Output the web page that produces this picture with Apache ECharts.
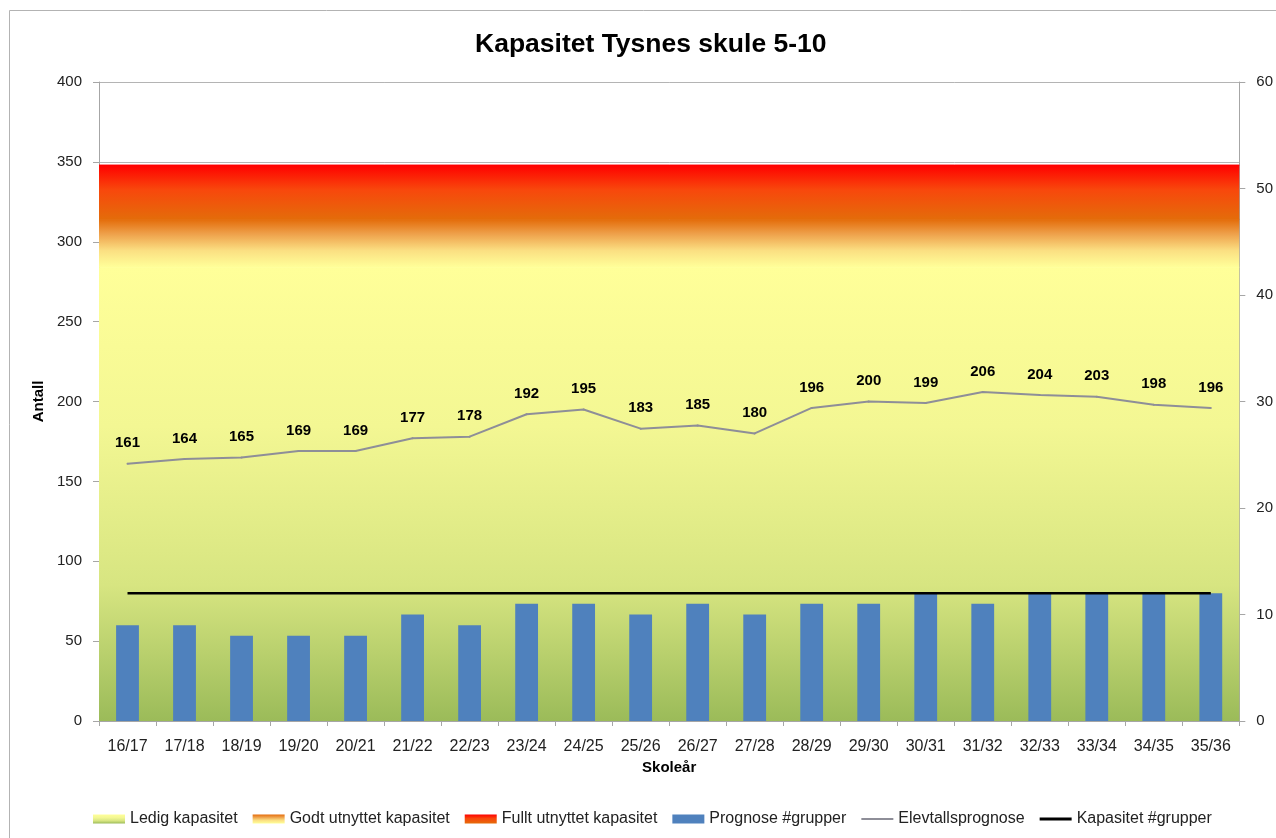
<!DOCTYPE html>
<html>
<head>
<meta charset="utf-8">
<script src="https://cdn.jsdelivr.net/npm/echarts@6/dist/echarts.min.js"></script>
<style>
    html, body { margin: 0; padding: 0; background: #fff; }
    #chart { width: 1276px; height: 838px; }
</style>
</head>
<body>
<div id="chart"></div>
<script>
    // skoleår
    var categories = ['16/17', '17/18', '18/19', '19/20', '20/21', '21/22', '22/23', '23/24', '24/25', '25/26',
        '26/27', '27/28', '28/29', '29/30', '30/31', '31/32', '32/33', '33/34', '34/35', '35/36'];
    // elevtal (venstre akse)
    var elevtall = [161, 164, 165, 169, 169, 177, 178, 192, 195, 183, 185, 180, 196, 200, 199, 206, 204, 203, 198, 196];
    // grupper (høgre akse)
    var grupper = [9, 9, 8, 8, 8, 10, 9, 11, 11, 10, 11, 10, 11, 11, 12, 11, 12, 12, 12, 12];
    var kapasitetGrupper = [12, 12, 12, 12, 12, 12, 12, 12, 12, 12, 12, 12, 12, 12, 12, 12, 12, 12, 12, 12];
    // bakgrunnsband, stabla (venstre akse), teikna over heile breidda
    var bandPoints = ['start', 'slutt'];
    var ledig = [284, 284];
    var godt = [30, 30];
    var fullt = [34, 34];
    // akseverdiar
    var leftMin = 0, leftMax = 400, leftStep = 50;
    var rightMin = 0, rightMax = 60, rightStep = 10;

    var font = 'Liberation Sans';
    var axisGray = '#a6a6a6';

    function grad(stops) {
        return new echarts.graphic.LinearGradient(0, 0, 0, 1, stops.map(function (s) {
            return {offset: s[0], color: s[1]};
        }));
    }
    var ledigGrad = grad([[0, '#ffff99'], [0.35, '#f3f793'], [0.7, '#d7e581'], [1, '#9bbb59']]);
    var godtGrad = grad([[0, '#e46c0a'], [0.3, '#eea04a'], [0.65, '#fbdf82'], [1, '#ffff99']]);
    var fulltGrad = grad([[0, '#ff0000'], [0.45, '#f8470c'], [1, '#e46c0a']]);

    function band(name, data, g, topColor) {
        return {
            name: name,
            type: 'line',
            xAxisIndex: 1,
            yAxisIndex: 0,
            stack: 'kap',
            data: data,
            symbol: 'none',
            z: 1,
            silent: true,
            // topplinja dekkjer skøyten mellom banda
            lineStyle: {width: 1, color: topColor},
            itemStyle: {color: g},
            areaStyle: {color: g, opacity: 1}
        };
    }

    var myChart = echarts.init(document.getElementById('chart'));
    var option = {
        animation: false,
        textStyle: {fontFamily: font},
        title: {
            text: 'Kapasitet Tysnes skule 5-10',
            left: 470,
            top: 26,
            textStyle: {fontFamily: font, fontSize: 26.5, fontWeight: 'bold', color: '#000'}
        },
        graphic: [{
            type: 'rect',
            shape: {x: 9.5, y: 10.5, width: 1400, height: 1000},
            style: {fill: 'none', stroke: '#b3b3b3', lineWidth: 1},
            silent: true
        }],
        legend: {
            bottom: 6,
            left: 88,
            itemWidth: 32,
            itemHeight: 9,
            itemGap: 15,
            textStyle: {fontFamily: font, fontSize: 16, color: '#222'},
            data: [
                {name: 'Ledig kapasitet', icon: 'rect'},
                {name: 'Godt utnyttet kapasitet', icon: 'rect'},
                {name: 'Fullt utnyttet kapasitet', icon: 'rect'},
                {name: 'Prognose #grupper', icon: 'rect'},
                {name: 'Elevtallsprognose', icon: 'path://M0,0 M32,9 M0,3.5 L32,3.5 L32,5.5 L0,5.5 Z'},
                {name: 'Kapasitet #grupper', icon: 'path://M0,0 M32,9 M0,3 L32,3 L32,6 L0,6 Z'}
            ]
        },
        grid: {left: 99, right: 36, top: 82, bottom: 117},
        xAxis: [
            {
                type: 'category',
                data: categories,
                name: 'Skoleår',
                nameLocation: 'middle',
                nameGap: 34,
                nameTextStyle: {fontFamily: font, fontSize: 15, fontWeight: 'bold', color: '#000'},
                axisLine: {lineStyle: {color: axisGray}},
                axisTick: {show: true, length: 5, lineStyle: {color: axisGray}},
                axisLabel: {fontFamily: font, fontSize: 16, color: '#222', margin: 18}
            },
            {
                type: 'category',
                data: bandPoints,
                boundaryGap: false,
                show: false
            }
        ],
        yAxis: [
            {
                type: 'value',
                min: leftMin,
                max: leftMax,
                interval: leftStep,
                name: 'Antall',
                nameLocation: 'middle',
                nameGap: 46,
                nameTextStyle: {fontFamily: font, fontSize: 15, fontWeight: 'bold', color: '#000'},
                axisLine: {show: true, lineStyle: {color: axisGray}},
                axisTick: {show: true, length: 6, lineStyle: {color: axisGray}},
                axisLabel: {fontFamily: font, fontSize: 15, color: '#222', margin: 17},
                splitLine: {show: true, lineStyle: {color: '#b4b4b4', width: 1}}
            },
            {
                type: 'value',
                min: rightMin,
                max: rightMax,
                interval: rightStep,
                position: 'right',
                axisLine: {show: true, lineStyle: {color: axisGray}},
                axisTick: {show: true, length: 6, lineStyle: {color: axisGray}},
                axisLabel: {fontFamily: font, fontSize: 15, color: '#222', margin: 17},
                splitLine: {show: false}
            }
        ],
        series: [
            band('Ledig kapasitet', ledig, ledigGrad, '#ffff99'),
            band('Godt utnyttet kapasitet', godt, godtGrad, '#e46c0a'),
            band('Fullt utnyttet kapasitet', fullt, fulltGrad, '#ff0000'),
            {
                name: 'Prognose #grupper',
                type: 'bar',
                yAxisIndex: 1,
                data: grupper,
                barWidth: '40%',
                z: 3,
                itemStyle: {color: '#4f81bd'}
            },
            {
                name: 'Elevtallsprognose',
                type: 'line',
                yAxisIndex: 0,
                data: elevtall,
                symbol: 'circle',
                symbolSize: 2,
                showSymbol: true,
                z: 4,
                itemStyle: {color: '#8e8e98'},
                lineStyle: {color: '#8e8e98', width: 2},
                label: {
                    show: true,
                    position: 'top',
                    distance: 12,
                    fontFamily: font,
                    fontSize: 15,
                    fontWeight: 'bold',
                    color: '#000'
                }
            },
            {
                name: 'Kapasitet #grupper',
                type: 'line',
                yAxisIndex: 1,
                data: kapasitetGrupper,
                symbol: 'none',
                z: 5,
                itemStyle: {color: '#000'},
                lineStyle: {color: '#000', width: 2.5}
            }
        ]
    };
    myChart.setOption(option);
</script>
</body>
</html>
